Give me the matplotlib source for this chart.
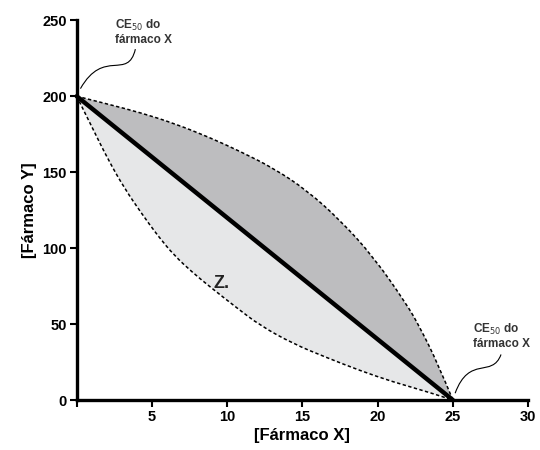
import matplotlib.pyplot as plt
import numpy as np
from matplotlib.path import Path
from matplotlib.patches import PathPatch

# isobologram: CE50 of X = 25, CE50 of Y = 200
line_x = [0, 25]
line_y = [200, 0]

# upper (antagonism) curve
upper_x = [0, 2.0, 4.3, 6.5, 8.8, 10.9, 13.1, 15.3, 17.5, 19.7, 21.9, 22.8, 24.0, 25]
upper_y = [200, 195, 189, 182, 173, 163.5, 152.5, 138, 118.5, 94.5, 63.5, 48, 24, 0]

# lower (synergy) curve
lower_x = [0, 1.0, 2.1, 3.2, 4.3, 5.4, 6.5, 7.7, 8.8, 10.6, 12.2, 14.4, 16.6, 18.8, 21.0, 23.3, 25]
lower_y = [200, 180, 158, 139, 123, 108, 95, 84, 75, 61, 49, 37, 28, 19.5, 12, 5.5, 0]

x_ticks = [0, 5, 10, 15, 20, 25, 30]
y_ticks = [0, 50, 100, 150, 200, 250]


def smooth_path(xs, ys, close=False):
    # quadratic bezier through midpoints, read points act as control points
    pts = list(zip(xs, ys))
    verts = [pts[0]]
    codes = [Path.MOVETO]
    for i in range(1, len(pts) - 1):
        mid = ((pts[i][0] + pts[i + 1][0]) / 2, (pts[i][1] + pts[i + 1][1]) / 2)
        if i == len(pts) - 2:
            mid = pts[-1]
        verts += [pts[i], mid]
        codes += [Path.CURVE3, Path.CURVE3]
    if close:
        verts.append(pts[0])
        codes.append(Path.LINETO)
    return Path(verts, codes)


plt.rcParams['font.family'] = ['Liberation Sans', 'DejaVu Sans']

fig = plt.figure(figsize=(5.4, 4.5), dpi=100)
ax = fig.add_axes((0.142, 0.111, 0.836, 0.844))

ax.add_patch(PathPatch(smooth_path(upper_x, upper_y, close=True), fc='#bdbdbf', lw=0, zorder=1))
ax.add_patch(PathPatch(smooth_path(lower_x, lower_y, close=True), fc='#e6e7e8', lw=0, zorder=1))
for xs, ys in ((upper_x, upper_y), (lower_x, lower_y)):
    ax.add_patch(PathPatch(smooth_path(xs, ys), fill=False, ec='black', lw=1.1,
                           ls=(0, (2.2, 1.6)), zorder=2, clip_on=False))
ax.plot(line_x, line_y, color='black', lw=3.2, zorder=3, clip_on=False, solid_capstyle='round')

ax.text(9.66, 77, 'Z.', fontsize=13, fontweight='bold', color='#222222',
        ha='center', va='center')

ax.set_xlim(0, 30)
ax.set_ylim(0, 250)
ax.set_xticks(x_ticks)
ax.set_xticklabels([''] + [str(t) for t in x_ticks[1:]])
ax.set_yticks(y_ticks)
ax.spines[['top', 'right']].set_visible(False)
ax.spines[['left', 'bottom']].set_linewidth(2.4)
ax.tick_params(direction='out', length=5, width=1.5, labelsize=10.5, pad=2)
for lab in ax.get_xticklabels() + ax.get_yticklabels():
    lab.set_fontweight('bold')

ax.set_xlabel('[Fármaco X]', fontsize=12, fontweight='bold', labelpad=3)
ax.set_ylabel('[Fármaco Y]', fontsize=12, fontweight='bold', labelpad=4)

# CE50 labels with wavy leader lines
ax.text(2.55, 233, 'CE$_{50}$ do\nfármaco X', fontsize=8.5, fontweight='bold',
        color='#333333', ha='left', va='bottom', linespacing=1.1, clip_on=False)
ax.text(26.35, 33, 'CE$_{50}$ do\nfármaco X', fontsize=8.5, fontweight='bold',
        color='#333333', ha='left', va='bottom', linespacing=1.1, clip_on=False)

codes = [Path.MOVETO, Path.CURVE4, Path.CURVE4, Path.CURVE4]
lead1 = Path([(3.9, 231), (3.4, 210), (1.8, 232), (0.25, 205)], codes)
lead2 = Path([(28.2, 30), (27.6, 14), (26.1, 30), (25.15, 4.5)], codes)
for p in (lead1, lead2):
    ax.add_patch(PathPatch(p, fill=False, color='black', lw=0.8, clip_on=False, zorder=4))

fig.savefig('out.png', dpi=100)
